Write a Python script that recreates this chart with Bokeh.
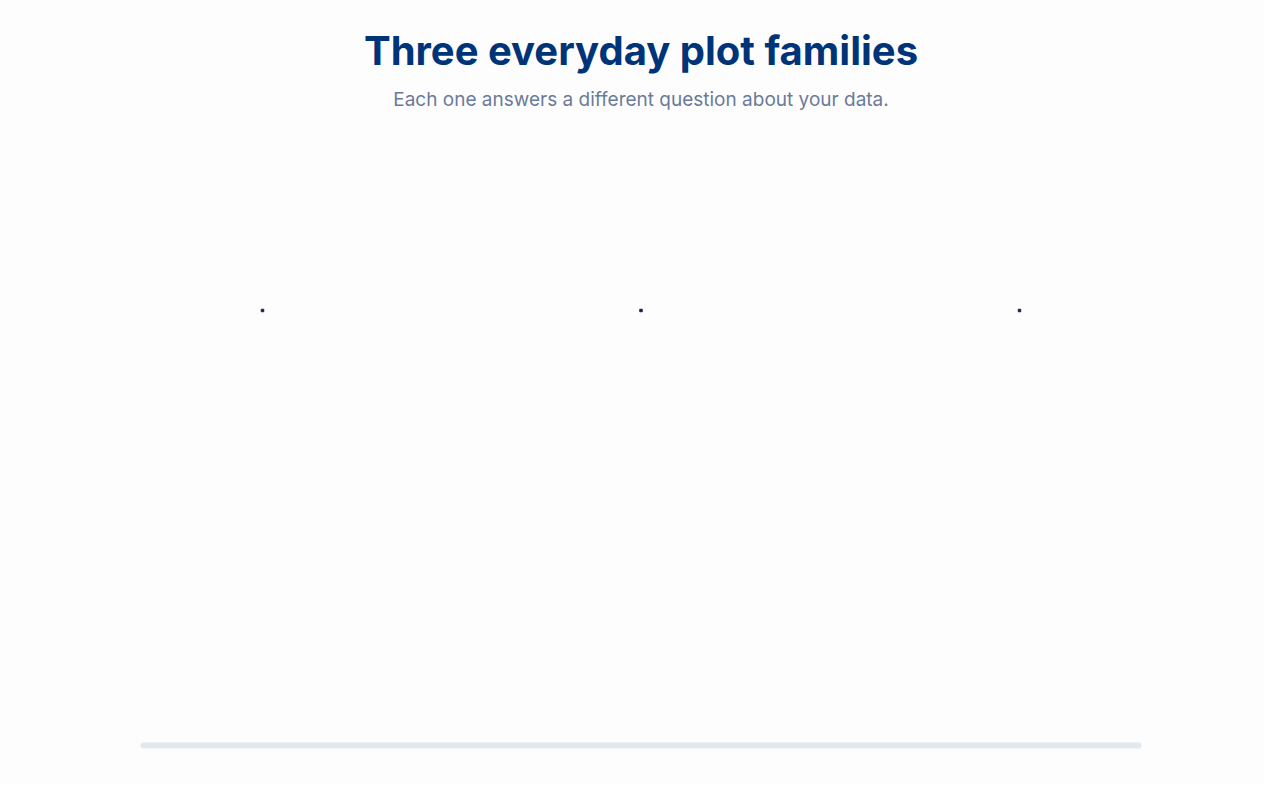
from bokeh.plotting import figure
from bokeh.models import Range1d, Label, BoxAnnotation
from bokeh.embed import file_html
from bokeh.resources import INLINE

# ---- data ----
title_text = "Three everyday plot families"
subtitle_text = "Each one answers a different question about your data."
families = ["Distribution", "Relationship", "Trend"]
family_values = [0, 0, 0]

# ---- layout constants (pixels) ----
W, H = 1264, 784
content_left, content_right = 140, 1141
panel_width = 244
n = len(families)
gap = (content_right - content_left - n * panel_width) / (n - 1)
centers = [content_left + panel_width / 2 + i * (panel_width + gap) for i in range(n)]
baseline = 310
mid_x = (content_left + content_right) / 2

p = figure(width=W, height=H, output_backend="svg", toolbar_location=None,
           x_range=Range1d(0, W), y_range=Range1d(H, 0), min_border=0)
p.axis.visible = False
p.grid.visible = False
p.outline_line_color = None
p.background_fill_color = "#fdfdfd"
p.border_fill_color = "#fdfdfd"

p.scatter(x=centers, y=[baseline - v for v in family_values], size=2.5,
          color="#1a1f4d", marker="square")

p.add_layout(Label(x=mid_x, y=H - 50, x_units="screen", y_units="screen",
                   text=title_text, text_font="Inter", text_font_style="bold",
                   text_font_size="40px", text_color="#003478",
                   text_align="center", text_baseline="middle"))
p.add_layout(Label(x=mid_x, y=H - 99, x_units="screen", y_units="screen",
                   text=subtitle_text, text_font="Inter",
                   text_font_size="19px", text_color="#6b7a99",
                   text_align="center", text_baseline="middle"))

p.add_layout(BoxAnnotation(left=content_left, right=content_right, top=742, bottom=748,
                           fill_color="#e2e8f0", fill_alpha=1, line_color=None,
                           border_radius=3))

open("out.html", "w").write(file_html(p, INLINE))
